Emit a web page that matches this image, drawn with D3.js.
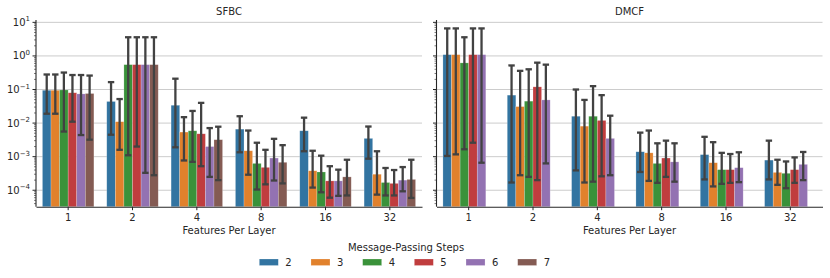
<!DOCTYPE html>
<html>
<head>
<meta charset="utf-8">
<script src="https://cdn.jsdelivr.net/npm/d3@7"></script>
<style>
body { margin: 0; background: #fff; }
text { font-family: "DejaVu Sans", sans-serif; fill: #262626; }
</style>
</head>
<body>
<script>
// chart data
const panelTitles = ["SFBC", "DMCF"];
const features = ["1", "2", "4", "8", "16", "32"];
const steps = ["2", "3", "4", "5", "6", "7"];
const colors = ["#3274a1", "#e1812c", "#3a923a", "#c03d3e", "#9372b2", "#845b53"];
const yTickExps = [1, 0, -1, -2, -3, -4];

// one row per feature group, one column per message-passing step
const sfbcMean = [
    [0.095, 0.095, 0.097, 0.080, 0.074, 0.076],
    [0.044, 0.011, 0.55, 0.55, 0.55, 0.55],
    [0.034, 0.0054, 0.0059, 0.0048, 0.0020, 0.0032],
    [0.0066, 0.0015, 0.00063, 0.00048, 0.00091, 0.00068],
    [0.0059, 0.00038, 0.00035, 0.00019, 0.00019, 0.00025],
    [0.0035, 0.00030, 0.00017, 0.00016, 0.00020, 0.00021]
];
const sfbcLow = [
    [0.019, 0.019, 0.0056, 0.011, 0.0044, 0.0032],
    [0.0045, 0.0016, 0.0011, 0.0020, 0.00033, 0.00028],
    [0.0019, 0.00077, 0.0007, 0.00052, 0.00025, 0.0002],
    [0.00135, 0.00029, 0.000105, 0.00015, 0.000195, 0.00016],
    [0.00145, 0.00012, 0.000087, 0.00006, 0.000068, 0.00007],
    [0.00087, 0.000074, 0.00007, 0.00007, 0.000093, 0.000059]
];
const sfbcHigh = [
    [0.28, 0.28, 0.32, 0.27, 0.27, 0.26],
    [0.166, 0.052, 3.6, 3.6, 3.6, 3.6],
    [0.21, 0.015, 0.023, 0.040, 0.0071, 0.0078],
    [0.016, 0.006, 0.0026, 0.0016, 0.0034, 0.0022],
    [0.0145, 0.0015, 0.00107, 0.00052, 0.00041, 0.00081],
    [0.0079, 0.00145, 0.00046, 0.0004, 0.00049, 0.00081]
];

// DMCF has no run with 7 steps
const dmcfMean = [
    [1.09, 1.09, 0.62, 1.09, 1.09],
    [0.068, 0.031, 0.045, 0.12, 0.049],
    [0.016, 0.0081, 0.016, 0.012, 0.0035],
    [0.0014, 0.0013, 0.00063, 0.00091, 0.0007],
    [0.00115, 0.00066, 0.00041, 0.00041, 0.00047],
    [0.00079, 0.00034, 0.00032, 0.00041, 0.00059]
];
const dmcfLow = [
    [0.00105, 0.00117, 0.00166, 0.0026, 0.00066],
    [0.00017, 0.00028, 0.00025, 0.0002, 0.00063],
    [0.00039, 0.00017, 0.00018, 0.00026, 0.00028],
    [0.00035, 0.00019, 0.000166, 0.00025, 0.00018],
    [0.00021, 0.00013, 0.000155, 0.000166, 0.000174],
    [0.00021, 0.000145, 0.000115, 0.000166, 0.0002]
];
const dmcfHigh = [
    [6.6, 6.6, 3.6, 6.6, 6.6],
    [0.52, 0.36, 0.40, 0.63, 0.55],
    [0.10, 0.049, 0.126, 0.068, 0.0166],
    [0.0052, 0.006, 0.0025, 0.003, 0.0025],
    [0.0039, 0.0027, 0.0013, 0.0012, 0.00135],
    [0.003, 0.00081, 0.00072, 0.00095, 0.00138]
];

const width = 830, height = 278;
const plotTop = 20, plotBottom = 206.7;
const panelX = [[36, 422], [436.5, 822.5]];
const errColor = "#424242";

const svg = d3.select("body").append("svg")
    .attr("width", width)
    .attr("height", height)
    .attr("viewBox", [0, 0, width, height]);

// shared log y scale
const y = d3.scaleLog()
    .domain([Math.pow(10, -4.49), Math.pow(10, 1.07)])
    .range([plotBottom, plotTop]);

// minor ticks 2..9 of each decade inside the domain
const minorTicks = [];
for (let e = -5; e <= 1; e++) {
    for (let k = 2; k <= 9; k++) {
        const v = k * Math.pow(10, e);
        if (v >= y.domain()[0] && v <= y.domain()[1]) minorTicks.push(v);
    }
}

function drawPanel(idx, means, lows, highs) {
    const [x0, x1] = panelX[idx];
    const g = svg.append("g");

    const x = d3.scaleBand().domain(features).range([x0, x1]).padding(0);
    const hue = d3.scaleBand().domain(steps)
        .range([-x.bandwidth() * 0.4, x.bandwidth() * 0.4]).padding(0);

    // grid
    g.append("g").selectAll("line")
        .data(yTickExps)
        .join("line")
        .attr("x1", x0).attr("x2", x1)
        .attr("y1", e => y(Math.pow(10, e))).attr("y2", e => y(Math.pow(10, e)))
        .attr("stroke", "#cccccc")
        .attr("stroke-width", 1);

    // bars, one group per feature count
    const groups = g.append("g").selectAll("g")
        .data(features)
        .join("g")
        .attr("transform", f => `translate(${x(f) + x.bandwidth() / 2},0)`);

    groups.each(function (f, i) {
        const rows = means[i].map((m, j) => ({ step: steps[j], m, lo: lows[i][j], hi: highs[i][j], c: colors[j] }));
        const sel = d3.select(this);
        sel.selectAll("rect")
            .data(rows)
            .join("rect")
            .attr("x", d => hue(d.step))
            .attr("width", hue.bandwidth())
            .attr("y", d => y(d.m))
            .attr("height", d => plotBottom - y(d.m))
            .attr("fill", d => d.c)
            .attr("stroke", "#ffffff")
            .attr("stroke-opacity", 0.35)
            .attr("stroke-width", 0.6);

        const err = sel.selectAll("g.err")
            .data(rows)
            .join("g")
            .attr("class", "err")
            .attr("stroke", errColor)
            .attr("stroke-width", 2.3)
            .attr("transform", d => `translate(${hue(d.step) + hue.bandwidth() / 2},0)`);
        err.append("line")
            .attr("y1", d => y(d.lo)).attr("y2", d => y(d.hi));
        err.append("line")
            .attr("x1", -3.2).attr("x2", 3.2)
            .attr("y1", d => y(d.lo)).attr("y2", d => y(d.lo));
        err.append("line")
            .attr("x1", -3.2).attr("x2", 3.2)
            .attr("y1", d => y(d.hi)).attr("y2", d => y(d.hi));
    });

    // x axis
    const xAxis = g.append("g")
        .attr("transform", `translate(0,${plotBottom})`)
        .call(d3.axisBottom(x).tickSize(3.5).tickPadding(3.5).tickSizeOuter(0));
    xAxis.select(".domain").attr("stroke", "#262626").attr("stroke-width", 1.1);
    xAxis.selectAll(".tick line").attr("stroke", "#262626");
    xAxis.selectAll("text").attr("font-size", "10px").attr("fill", "#262626")
        .attr("font-family", "DejaVu Sans, sans-serif");

    g.append("text")
        .text("Features Per Layer")
        .attr("x", (x0 + x1) / 2)
        .attr("y", 233.5)
        .attr("text-anchor", "middle")
        .attr("font-size", "10px");

    // y axis: line, major and minor ticks
    g.append("line")
        .attr("x1", x0).attr("x2", x0)
        .attr("y1", plotTop).attr("y2", plotBottom)
        .attr("stroke", "#262626").attr("stroke-width", 1.1);
    g.append("g").selectAll("line")
        .data(yTickExps)
        .join("line")
        .attr("x1", x0 - 3.5).attr("x2", x0)
        .attr("y1", e => y(Math.pow(10, e))).attr("y2", e => y(Math.pow(10, e)))
        .attr("stroke", "#262626");
    g.append("g").selectAll("line")
        .data(minorTicks)
        .join("line")
        .attr("x1", x0 - 2).attr("x2", x0)
        .attr("y1", d => y(d)).attr("y2", d => y(d))
        .attr("stroke", "#262626").attr("stroke-width", 0.6);

    if (idx === 0) {
        const labels = g.append("g").selectAll("text")
            .data(yTickExps)
            .join("text")
            .attr("x", x0 - 6)
            .attr("y", e => y(Math.pow(10, e)) + 3.5)
            .attr("text-anchor", "end")
            .attr("font-size", "10px");
        labels.append("tspan").text("10");
        labels.append("tspan")
            .text(e => e < 0 ? "\u2212" + Math.abs(e) : String(e))
            .attr("font-size", "7px")
            .attr("dy", -4.5);
    }

    g.append("text")
        .text(panelTitles[idx])
        .attr("x", (x0 + x1) / 2)
        .attr("y", 14.5)
        .attr("text-anchor", "middle")
        .attr("font-size", "10px");
}

drawPanel(0, sfbcMean, sfbcLow, sfbcHigh);
drawPanel(1, dmcfMean, dmcfLow, dmcfHigh);

// legend
svg.append("text")
    .text("Message-Passing Steps")
    .attr("x", 406)
    .attr("y", 250.5)
    .attr("text-anchor", "middle")
    .attr("font-size", "10px");

const legendX = d3.scalePoint().domain(steps).range([259.3, 517.7]);
const legend = svg.append("g").selectAll("g")
    .data(steps)
    .join("g")
    .attr("transform", s => `translate(${legendX(s)},259)`);
legend.append("rect")
    .attr("width", 19).attr("height", 6.5)
    .attr("fill", (s, i) => colors[i])
    .attr("stroke", "#ffffff").attr("stroke-opacity", 0.35).attr("stroke-width", 0.6);
legend.append("text")
    .text(s => s)
    .attr("x", 26)
    .attr("y", 6.8)
    .attr("font-size", "10px");
</script>
</body>
</html>
